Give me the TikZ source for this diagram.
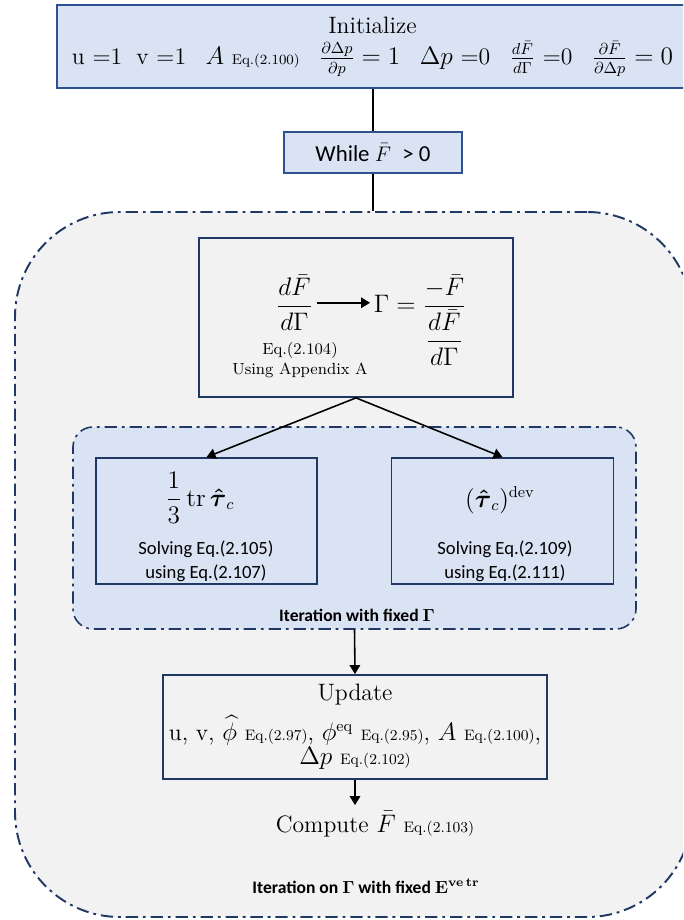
\documentclass[tikz,border=0pt]{standalone}
\usepackage{amsmath,amssymb}
\usepackage[no-math]{fontspec}
\newfontfamily\calibri{Carlito}
\usetikzlibrary{arrows.meta, positioning, calc}

\definecolor{lightblue}{HTML}{DAE3F3}
\definecolor{midblue}{HTML}{2F528F}
\definecolor{navy}{HTML}{1F3864}
\definecolor{loopgray}{HTML}{F2F2F2}

\newcommand{\eqsrc}[2][8.6]{{\fontsize{#1}{#1}\selectfont Eq.(#2)}}
\newcommand{\gap}{\hspace{0.82em}}

\begin{document}
\begin{tikzpicture}[
    font=\fontsize{13.5}{16}\selectfont,
    blu/.style={draw=midblue, fill=lightblue, line width=1.1pt},
    stage/.style={draw=navy, line width=1pt},
    loopframe/.style={draw=navy, line width=1.1pt, dash pattern=on 7pt off 2.8pt on 1.6pt off 2.8pt},
    lbl/.style={font=\calibri\fontsize{10.6}{13.6}\selectfont, align=center},
    tag/.style={font=\calibri\bfseries\fontsize{10}{12}\selectfont},
    link/.style={line width=1.5pt},
    arr/.style={line width=0.9pt, -{Triangle[length=1.8mm, width=2.1mm]}}
]
    \useasboundingbox (0,0) rectangle (13.66,-18.4);
    \clip (0,0) rectangle (13.66,-18.4);

    \node[loopframe, fill=loopgray, rounded corners=2.1cm, minimum width=13.54cm, minimum height=14.1cm] (loop) at (7.07,-11.29) {};
    \node[tag, anchor=base] (looptag) at (7.32,-17.86) {Iteration on $\mathbf{\Gamma}$ with fixed $\mathbf{E}^{\mathbf{ve\,tr}}$};

    \node[blu, minimum width=12.62cm, minimum height=1.66cm, align=center] (init) at (7.45,-0.93) {Initialize\\[2pt]
        u =1\hspace{0.6em}v =1\gap$A$ \eqsrc[8]{2.100}\gap$\frac{\partial\Delta p}{\partial p} = 1$\gap$\Delta p$ =0\gap$\frac{d\bar{F}}{d\Gamma}$ =0\gap$\frac{\partial\bar{F}}{\partial\Delta p} = 0$};
    \node[blu, font=\calibri\fontsize{13}{15}\selectfont, minimum width=3.56cm, minimum height=0.82cm] (while) at (7.46,-3.05) {While $\bar{F}$\enspace> 0};
    \draw[link] (while.north |- init.south) -- (while.north);
    \draw[link] (while.south) -- (while.south |- loop.north);

    \node[stage, minimum width=6.28cm, minimum height=3.18cm] (gamma) at (7.12,-6.35) {};
    \node[anchor=base, inner sep=2pt] (dfdg) at (5.89,-6.26) {$\displaystyle\frac{d\bar{F}}{d\Gamma}$};
    \node[anchor=base, inner sep=2pt] (gupd) at (8.4,-6.26) {$\displaystyle\Gamma = \frac{-\bar{F}}{\dfrac{d\bar{F}}{d\Gamma}}$};
    \node[align=center, inner sep=1pt, font=\fontsize{9.2}{11.5}\selectfont] (appx) at (6.0,-7.2) {Eq.(2.104)\\Using Appendix A};
    \draw[arr] (dfdg.east) -- (dfdg.east -| gupd.west);

    \node[loopframe, fill=lightblue, rounded corners=0.4cm, line width=0.9pt, minimum width=11.26cm, minimum height=4.04cm] (inner) at (7.09,-10.56) {};
    \node[tag] (innertag) at (7.14,-12.3) {Iteration with fixed $\mathbf{\Gamma}$};

    \node[stage, minimum width=4.42cm, minimum height=2.52cm] (trace) at (4.13,-10.42) {};
    \node[anchor=base, inner sep=1pt] (trmath) at (4.0,-10.12) {$\displaystyle\frac{1}{3}\,\mathrm{tr}\,\boldsymbol{\hat{\tau}}_c$};
    \node[lbl, inner sep=1pt] (trnote) at (4.12,-11.22) {Solving Eq.(2.105)\\using Eq.(2.107)};
    \node[stage, minimum width=4.44cm, minimum height=2.52cm] (dev) at (10.05,-10.42) {};
    \node[anchor=base, inner sep=1pt] (devmath) at (10.0,-10.14) {$(\boldsymbol{\hat{\tau}}_c)^{\mathrm{dev}}$};
    \node[lbl, inner sep=1pt] (devnote) at (10.1,-11.22) {Solving Eq.(2.109)\\using Eq.(2.111)};
    \draw[arr] (gamma.south) -- (trace.north);
    \draw[arr] (gamma.south) -- (dev.north);

    \node[stage, minimum width=7.6cm, minimum height=2.08cm, align=center, font=\fontsize{13.5}{14}\selectfont] (update) at (7.1,-14.54) {Update\\[5pt]
        u, v, $\widehat{\phi}$ \eqsrc{2.97}, $\phi^{\mathrm{eq}}$ \eqsrc{2.95}, $A$ \eqsrc{2.100},\\ $\Delta p$ \eqsrc{2.102}};
    \draw[arr] (inner.south) -- (update.north);
    \node[anchor=base] (compute) at (7.5,-16.64) {Compute $\bar{F}$ \eqsrc{2.103}};
    \draw[arr] (update.south) -- (update.south |- compute.north);
\end{tikzpicture}
\end{document}
